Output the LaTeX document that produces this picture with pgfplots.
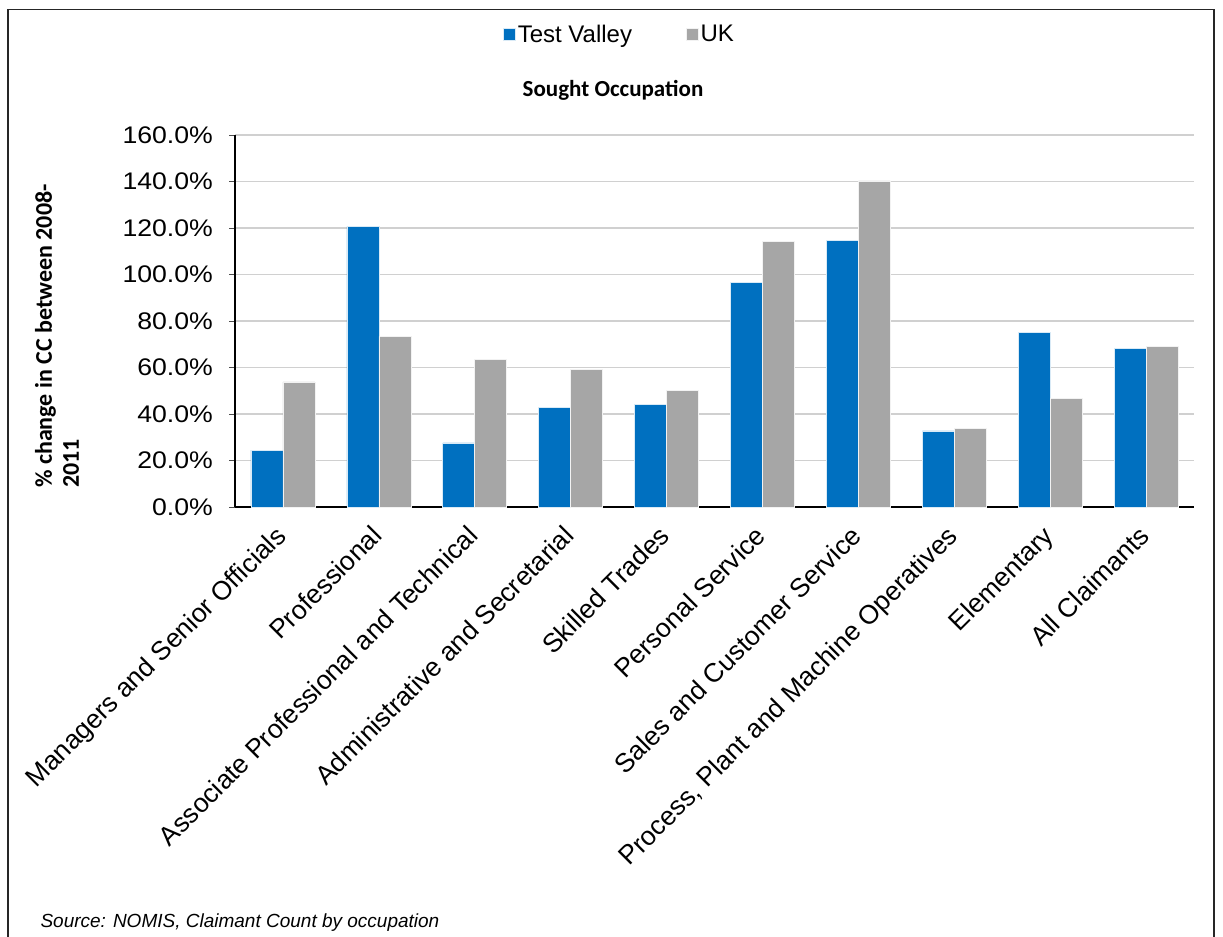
\documentclass[border=0pt]{standalone}
\usepackage{pgfplots}
\pgfplotsset{compat=1.18}
\usepackage{fontspec}
\setmainfont{Liberation Sans}
\newfontfamily\calibrifont{Carlito}
\definecolor{tvblue}{HTML}{0070C0}
\definecolor{ukgray}{HTML}{A6A6A6}
\definecolor{gridgray}{HTML}{D0D0D0}
\begin{document}
\begin{tikzpicture}
\path[use as bounding box] (0,0) rectangle (1223bp,-937bp);
\draw[line width=1.5bp, black!85] (8bp,-940bp) -- (8bp,-9.5bp) -- (1214bp,-9.5bp) -- (1214bp,-940bp);
\begin{axis}[
  at={(235bp,-507bp)}, anchor=south west,
  scale only axis, width=959bp, height=372bp,
  xmin=-0.5, xmax=9.5, ymin=0, ymax=160,
  axis x line*=bottom, axis y line*=left,
  axis line style={black, line width=1.6bp},
  ybar=0pt, bar width=0.3333,
  xtick={0,...,9},
  xticklabels={Managers and Senior Officials,Professional,Associate Professional and Technical,Administrative and Secretarial,Skilled Trades,Personal Service,Sales and Customer Service,{Process, Plant and Machine Operatives},Elementary,All Claimants},
  xtick style={draw=none},
  minor xtick={-0.5,0.5,...,9.5},
  minor x tick style={black!70, line width=1bp},
  ytick={0,20,...,160},
  ytick style={black!70, line width=1bp},
  tick align=outside, major tick length=6bp, minor tick length=6bp,
  ymajorgrids, grid style={gridgray, line width=1.3bp},
  /pgf/number format/assume math mode=true,
  yticklabel={\pgfmathprintnumber[fixed,fixed zerofill,precision=1]{\tick}\%},
  yticklabel style={font=\fontsize{24bp}{28bp}\selectfont, xscale=1.11, xshift=-11bp},
  xticklabel style={font=\fontsize{26.5bp}{30bp}\selectfont, xshift=-9bp, yshift=-8bp, rotate=45, anchor=north east, inner sep=2bp},
  legend style={at={(rel axis cs:0.401,1.271)}, anchor=center, draw=none, legend columns=2,
    font=\fontsize{24bp}{28bp}\selectfont,
    /tikz/every even column/.append style={column sep=52bp}},
  legend image code/.code={\fill[#1] (0bp,-6bp) rectangle (12bp,6bp);},
  clip=false,
]
\addplot[fill=tvblue, draw=white!85!tvblue, line width=0.6bp] coordinates {
(0,24.5) (1,120.6) (2,27.6) (3,43.0) (4,44.0) (5,96.7) (6,114.7) (7,32.7) (8,75.0) (9,68.3)};
\addplot[fill=ukgray, draw=white!85!ukgray, line width=0.6bp] coordinates {
(0,53.8) (1,73.4) (2,63.6) (3,59.1) (4,50.1) (5,114.2) (6,140.3) (7,33.7) (8,46.6) (9,69.1)};
\legend{Test Valley,UK}
\end{axis}
\node[font=\calibrifont\bfseries\fontsize{23bp}{26bp}\selectfont] at (613bp,-90bp) {Sought Occupation};
\node[font=\calibrifont\bfseries\fontsize{24bp}{27bp}\selectfont, rotate=90, align=left, anchor=center] at (57bp,-336bp) {\% change in CC between 2008-\\2011};
\node[font=\itshape\fontsize{19bp}{22bp}\selectfont, anchor=base west] at (37bp,-927bp) {Source: NOMIS, Claimant Count by occupation};
\end{tikzpicture}
\end{document}
